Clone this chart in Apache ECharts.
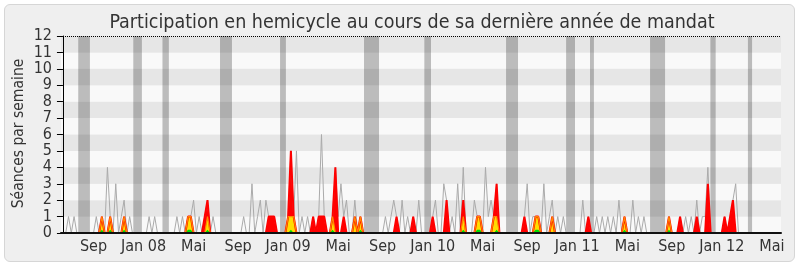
<!DOCTYPE html>
<html><head><meta charset="utf-8">
<script src="https://cdn.jsdelivr.net/npm/echarts@6/dist/echarts.min.js"></script>
<style>
html,body{margin:0;padding:0;background:#fff;}
#wrap{position:relative;width:800px;height:267px;}
#box{position:absolute;left:4px;top:4px;width:789px;height:256px;border:1px solid #d6d6d6;border-radius:6px;background:#efefef;}
#chart{position:absolute;left:0;top:0;width:800px;height:267px;}
</style></head><body>
<div id="wrap"><div id="box"></div><div id="chart"></div></div>
<script>
// ---- DATA (one value per week, week 0 = mid-June 2007) ----
const totalSessions = [
/*0*/   0,0,1,0,1,0,0,0,0,0,
/*10*/  0,0,1,0,1,0,4,1,0,3,
/*20*/  0,1,2,0,1,0,0,0,0,0,
/*30*/  0,1,0,1,0,0,0,0,0,0,
/*40*/  0,1,0,1,0,1,1,2,0,1,
/*50*/  0,1,2,0,1,0,0,0,0,0,
/*60*/  0,0,0,0,0,1,0,0,3,0,
/*70*/  1,2,0,2,1,1,1,0,0,0,
/*80*/  0,1,5,1,5,0,1,0,1,0,
/*90*/  1,0,1,6,1,0,0,1,4,1,
/*100*/ 3,1,2,0,0,2,0,1,0,0,
/*110*/ 0,0,0,0,0,0,1,0,1,2,
/*120*/ 1,0,2,0,1,0,1,0,2,0,
/*130*/ 0,0,0,1,2,0,0,3,2,0,
/*140*/ 1,0,3,0,4,0,0,0,2,1,
/*150*/ 1,0,4,1,2,1,3,0,0,0,
/*160*/ 0,0,0,0,0,0,1,3,0,1,
/*170*/ 1,1,0,3,0,1,2,0,1,0,
/*180*/ 1,0,0,0,0,0,0,2,0,1,
/*190*/ 0,0,1,0,1,0,1,0,1,0,
/*200*/ 2,0,1,0,0,2,0,1,0,1,
/*210*/ 0,0,0,0,0,0,0,0,1,0,
/*220*/ 0,0,1,0,1,0,1,0,2,0,
/*230*/ 1,1,4,0,0,0,0,0,1,0,
/*240*/ 1,2,3,0,0,0,0,0,0,0,
/*250*/ 0,0,0,0,0,0,0,0,0
];
const presences = [
/*0*/   0,0,0,0,0,0,0,0,0,0,
/*10*/  0,0,0,0,1,0,0,1,0,0,
/*20*/  0,0,1,0,0,0,0,0,0,0,
/*30*/  0,0,0,0,0,0,0,0,0,0,
/*40*/  0,0,0,0,0,1,1,0,0,0,
/*50*/  0,1,2,0,0,0,0,0,0,0,
/*60*/  0,0,0,0,0,0,0,0,0,0,
/*70*/  0,0,0,0,1,1,1,0,0,0,
/*80*/  0,1,5,1,0,0,0,0,0,0,
/*90*/  1,0,1,1,1,0,0,1,4,0,
/*100*/ 0,1,0,0,0,1,0,1,0,0,
/*110*/ 0,0,0,0,0,0,0,0,0,0,
/*120*/ 1,0,0,0,0,0,1,0,0,0,
/*130*/ 0,0,0,1,0,0,0,0,2,0,
/*140*/ 0,0,0,0,2,0,0,0,0,1,
/*150*/ 1,0,0,0,0,1,3,0,0,0,
/*160*/ 0,0,0,0,0,0,1,0,0,0,
/*170*/ 1,1,0,0,0,0,1,0,0,0,
/*180*/ 0,0,0,0,0,0,0,0,0,1,
/*190*/ 0,0,0,0,0,0,0,0,0,0,
/*200*/ 0,0,1,0,0,0,0,0,0,0,
/*210*/ 0,0,0,0,0,0,0,0,1,0,
/*220*/ 0,0,1,0,0,0,0,0,1,0,
/*230*/ 0,0,3,0,0,0,0,0,1,0,
/*240*/ 1,2,0,0,0,0,0,0,0,0,
/*250*/ 0,0,0,0,0,0,0,0,0
];
const interventions = [
/*0*/   0,0,0,0,0,0,0,0,0,0,
/*10*/  0,0,0,0,1,0,0,1,0,0,
/*20*/  0,0,1,0,0,0,0,0,0,0,
/*30*/  0,0,0,0,0,0,0,0,0,0,
/*40*/  0,0,0,0,0,1,1,0,0,0,
/*50*/  0,0,1,0,0,0,0,0,0,0,
/*60*/  0,0,0,0,0,0,0,0,0,0,
/*70*/  0,0,0,0,0,0,0,0,0,0,
/*80*/  0,1,1,1,0,0,0,0,0,0,
/*90*/  0,0,0,0,0,0,0,1,0,0,
/*100*/ 0,0,0,0,0,1,0,1,0,0,
/*110*/ 0,0,0,0,0,0,0,0,0,0,
/*120*/ 0,0,0,0,0,0,0,0,0,0,
/*130*/ 0,0,0,0,0,0,0,0,0,0,
/*140*/ 0,0,0,0,1,0,0,0,0,1,
/*150*/ 1,0,0,0,0,1,1,0,0,0,
/*160*/ 0,0,0,0,0,0,0,0,0,0,
/*170*/ 1,1,0,0,0,0,1,0,0,0,
/*180*/ 0,0,0,0,0,0,0,0,0,0,
/*190*/ 0,0,0,0,0,0,0,0,0,0,
/*200*/ 0,0,1,0,0,0,0,0,0,0,
/*210*/ 0,0,0,0,0,0,0,0,1,0,
/*220*/ 0,0,0,0,0,0,0,0,0,0,
/*230*/ 0,0,0,0,0,0,0,0,0,0,
/*240*/ 0,0,0,0,0,0,0,0,0,0,
/*250*/ 0,0,0,0,0,0,0,0,0
];
const questions = [
/*0*/   0,0,0,0,0,0,0,0,0,0,
/*10*/  0,0,0,0,0.2,0,0,0.2,0,0,
/*20*/  0,0,0.2,0,0,0,0,0,0,0,
/*30*/  0,0,0,0,0,0,0,0,0,0,
/*40*/  0,0,0,0,0,0.2,0.2,0,0,0,
/*50*/  0,0,0.2,0,0,0,0,0,0,0,
/*60*/  0,0,0,0,0,0,0,0,0,0,
/*70*/  0,0,0,0,0,0,0,0,0,0,
/*80*/  0,0,0.2,0,0,0,0,0,0,0,
/*90*/  0,0,0,0,0,0,0,0.2,0,0,
/*100*/ 0,0,0,0,0,0,0,0.2,0,0,
/*110*/ 0,0,0,0,0,0,0,0,0,0,
/*120*/ 0,0,0,0,0,0,0,0,0,0,
/*130*/ 0,0,0,0,0,0,0,0,0,0,
/*140*/ 0,0,0,0,0.2,0,0,0,0,0.2,
/*150*/ 0.2,0,0,0,0,0,0.2,0,0,0,
/*160*/ 0,0,0,0,0,0,0,0,0,0,
/*170*/ 0.2,0.2,0,0,0,0,0,0,0,0,
/*180*/ 0,0,0,0,0,0,0,0,0,0,
/*190*/ 0,0,0,0,0,0,0,0,0,0,
/*200*/ 0,0,0.2,0,0,0,0,0,0,0,
/*210*/ 0,0,0,0,0,0,0,0,0.2,0,
/*220*/ 0,0,0,0,0,0,0,0,0,0,
/*230*/ 0,0,0,0,0,0,0,0,0,0,
/*240*/ 0,0,0,0,0,0,0,0,0,0,
/*250*/ 0,0,0,0,0,0,0,0,0
];
// parliamentary breaks, [start week, end week]
const vacations = [
  [5.5,9.7],[25.3,28.4],[35.8,38.1],[56.5,60.8],[78.1,80.2],[108.3,113.7],
  [130,132.4],[159.4,163.7],[181,184.2],[189.6,191],[211.2,216.6],[232.9,234.8],[246.4,247.9]
];
const tickWeeks  = [11,29,47,63,81,99,115,133,151,167,185,203,219,237,255];
const tickLabels = ['Sep','Jan 08','Mai','Sep','Jan 09','Mai','Sep','Jan 10','Mai','Sep','Jan 11','Mai','Sep','Jan 12','Mai'];
const titleText = 'Participation en hemicycle au cours de sa dernière année de mandat';
const yName = 'Séances par semaine';

// ---- font choice ----
function hasFont(f){
  const c=document.createElement('canvas').getContext('2d');
  c.font='40px monospace'; const w0=c.measureText('mmmmiiiilllWW').width;
  c.font='40px "'+f+'", monospace'; return c.measureText('mmmmiiiilllWW').width!==w0;
}
const cond = hasFont('DejaVu Sans Condensed');
const FF = cond ? '"DejaVu Sans Condensed"' : '"DejaVu Sans"';
const k = cond ? 1 : 0.9;
const titleSize = 19.5*k, labelSize = 16*k, nameSize = 15.5*k;

const pair = arr => arr.map((v,i)=>[i,v]);
const chart = echarts.init(document.getElementById('chart'), null, {renderer:'canvas'});
chart.setOption({
  animation:false,
  backgroundColor:'transparent',
  grid:{left:61,right:19,top:36,bottom:34},
  graphic:[
    {type:'text', x:412, y:22.5, style:{text:titleText, font:titleSize+'px '+FF, fill:'#333', textAlign:'center', textVerticalAlign:'middle'}},
    {type:'text', x:19, y:133.5, rotation:Math.PI/2, style:{text:yName, font:nameSize+'px '+FF, fill:'#333', textAlign:'center', textVerticalAlign:'middle'}}
  ],
  xAxis:{type:'value',min:-0.7,max:258.3,z:10,
    axisLine:{show:true,lineStyle:{color:'#111',width:2}},
    axisTick:{show:false},
    splitLine:{show:false},
    axisLabel:{customValues:tickWeeks, formatter:v=>{const j=tickWeeks.indexOf(v);return j<0?'':tickLabels[j];},
      fontFamily:FF, fontSize:labelSize, color:'#333', margin:6}
  },
  yAxis:{type:'value',min:0,max:12,interval:1,
    axisLine:{show:true,lineStyle:{color:'#000',width:1}},
    axisTick:{show:true,length:6,lineStyle:{color:'#000'}},
    axisLabel:{fontFamily:FF, fontSize:labelSize, margin:9, color:'#333'},
    splitLine:{show:false},
    splitArea:{show:true, areaStyle:{color:['#f9f9f9','#e6e6e6']}}
  },
  series:[
    {type:'line', data:pair(totalSessions), symbol:'none', silent:true,
     lineStyle:{color:'#aaaaaa',width:1},
     markArea:{silent:true, itemStyle:{color:'rgba(0,0,0,0.245)'}, label:{show:false},
       data:vacations.map(([a,b])=>[{xAxis:a},{xAxis:b}])},
     markLine:{silent:true, symbol:'none', label:{show:false},
       lineStyle:{type:'dotted',color:'#000',width:1}, data:[{yAxis:12}]}},
    {type:'line', data:pair(presences), symbol:'none', silent:true,
     lineStyle:{color:'#ff0000',width:2}, areaStyle:{color:'#ff0000',opacity:1}},
    {type:'line', data:pair(interventions), symbol:'none', silent:true,
     lineStyle:{color:'#ff8800',width:1.2}, areaStyle:{color:'#ffdd00',opacity:1}},
    {type:'line', data:pair(questions), symbol:'none', silent:true,
     lineStyle:{color:'#00cc00',width:0}, areaStyle:{color:'#00dd00',opacity:1}}
  ]
});
</script>
</body></html>
